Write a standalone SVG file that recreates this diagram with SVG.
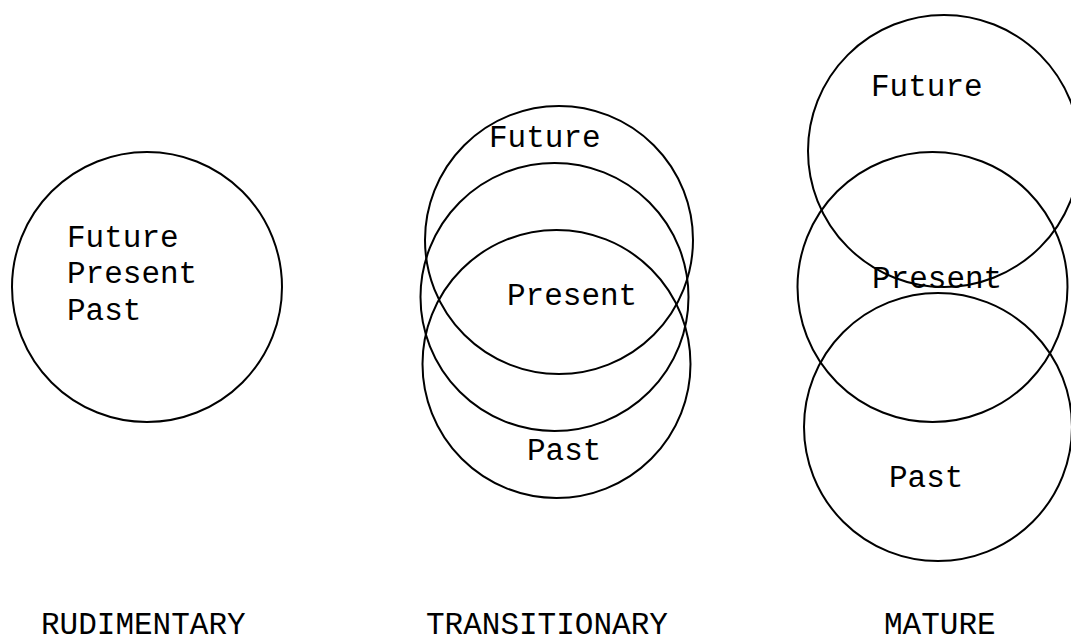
<svg xmlns="http://www.w3.org/2000/svg" width="1071" height="643" viewBox="0 0 1071 643">
<style>
.c{fill:none;stroke:#000;stroke-width:2}
.t{font-family:"Liberation Mono","Courier New",monospace;font-size:31px;fill:#000}
</style>
<rect width="1071" height="643" fill="#fff"/>
<g id="rudimentary">
<circle class="c" cx="147" cy="287" r="135"/>
<text class="t" x="67" y="247">Future</text>
<text class="t" x="67" y="283">Present</text>
<text class="t" x="67" y="320">Past</text>
<text class="t" x="41" y="634">RUDIMENTARY</text>
</g>
<g id="transitionary">
<circle class="c" cx="559" cy="240" r="134"/>
<circle class="c" cx="554.5" cy="297" r="134"/>
<circle class="c" cx="556.5" cy="364" r="134"/>
<text class="t" x="489" y="147">Future</text>
<text class="t" x="507" y="305">Present</text>
<text class="t" x="527" y="460">Past</text>
<text class="t" x="426" y="634">TRANSITIONARY</text>
</g>
<g id="mature">
<circle class="c" cx="944" cy="151" r="136"/>
<circle class="c" cx="932.5" cy="287" r="135"/>
<circle class="c" cx="938" cy="427" r="134"/>
<text class="t" x="871" y="96">Future</text>
<text class="t" x="872" y="288">Present</text>
<text class="t" x="889" y="487">Past</text>
<text class="t" x="884" y="634">MATURE</text>
</g>
<g id="connectors"></g>
</svg>
